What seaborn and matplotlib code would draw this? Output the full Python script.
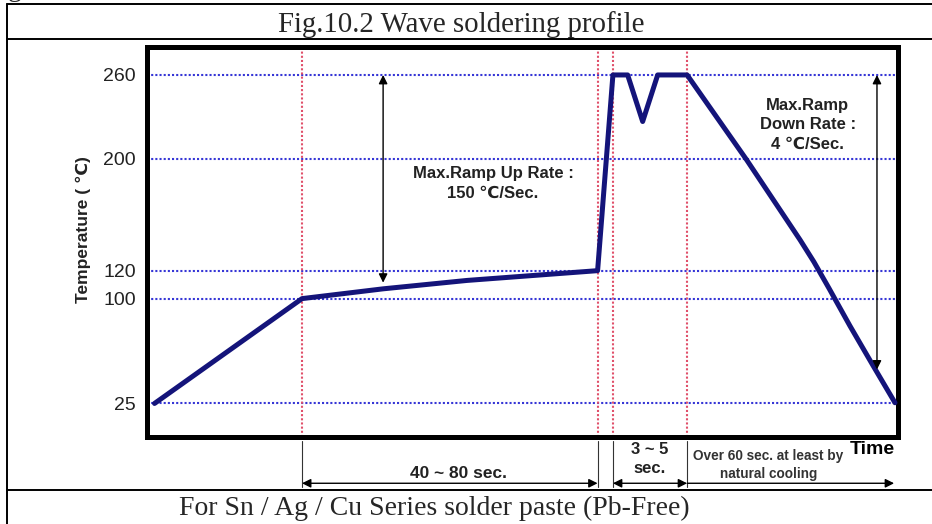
import matplotlib
matplotlib.use("Agg")
import matplotlib.pyplot as plt
from matplotlib.lines import Line2D
import seaborn as sns
import pandas as pd

# temperature profile, time in arbitrary units across the frame (0..250)
profile_time = [2.5, 51.6, 78.6, 106.5, 150, 155.1, 160, 165, 170, 179.8, 199.6,
                217.4, 222, 227, 234, 241.8, 249]
profile_temp = [25, 100, 107, 113, 120, 260, 260, 226.7, 260, 260, 199.3,
                142, 126.3, 107.5, 80.5, 51.7, 25.5]

grid_temps = [25, 100, 120, 200, 260]
phase_marks = [51.6, 150, 155.1, 179.8]

# rate arrows: (time, top temp, bottom temp)
up_arrow = (78.6, 260, 111.4)
down_arrow = (243, 260, 49.3)

up_text = "Max.Ramp Up Rate :\n150 ℃/Sec."
down_text = "Max.Ramp\nDown Rate :\n4 ℃/Sec."

title = "Fig.10.2 Wave soldering profile"
footer = "For Sn / Ag / Cu Series solder paste (Pb-Free)"

sns.set_style("white")
plt.rcParams["font.family"] = ["Liberation Sans", "DejaVu Sans"]
SANS = ["Liberation Sans", "DejaVu Sans"]
SERIF = ["Liberation Serif", "DejaVu Serif"]

fig = plt.figure(figsize=(9.32, 5.24), dpi=100)
ax = fig.add_axes([147 / 932, 1 - 437 / 524, 751 / 932, 390 / 524])

df = pd.DataFrame({"time": profile_time, "temp": profile_temp})

for t in grid_temps:
    ax.axhline(t, color="#3636d6", lw=1.5, ls=(0, (1, 1)), zorder=1)
for x in phase_marks:
    ax.axvline(x, color="#e0506a", lw=1.5, ls=(0, (1, 1)), zorder=1)

sns.lineplot(data=df, x="time", y="temp", ax=ax, color="#14147a", lw=3.6,
             sort=False, estimator=None, zorder=3)
ax.lines[-1].set_solid_joinstyle("round")
ax.lines[-1].set_solid_capstyle("round")

ax.set_xlim(0, 250)
ax.set_ylim(1, 280)
ax.set_xticks([])
ax.set_yticks(grid_temps)
ax.tick_params(axis="y", length=0, pad=8, labelsize=14, labelcolor="#222222")
for lab in ax.get_yticklabels():
    lab.set_family(SANS)
for sp in ax.spines.values():
    sp.set_linewidth(3.6)
    sp.set_color("black")
ax.set_xlabel("")
ax.set_ylabel("Temperature ( ℃)", fontsize=12.5, fontweight="bold", color="#222222", va="center")
ax.yaxis.set_label_coords(-0.085, 0.531)

# ramp arrows
arrow_kw = dict(arrowstyle="<|-|>", color="black", lw=1.0, mutation_scale=13, shrinkA=0, shrinkB=0)
ax.annotate("", xy=(up_arrow[0], up_arrow[2]), xytext=(up_arrow[0], up_arrow[1]), arrowprops=arrow_kw)
ax.annotate("", xy=(down_arrow[0], down_arrow[2]), xytext=(down_arrow[0], down_arrow[1]), arrowprops=arrow_kw)

ax.text(115.2, 182.5, up_text, ha="center", va="center", fontsize=12, fontweight="bold",
        color="#222222", linespacing=1.4, family=SANS)
ax.text(220, 224.3, down_text, ha="center", va="center", fontsize=12, fontweight="bold",
        color="#222222", linespacing=1.4, family=SANS)

# phase brackets below the frame
for x in phase_marks:
    ax.plot([x, x], [-2, -35], color="#333333", lw=0.8, clip_on=False)
ax.annotate("", xy=(phase_marks[1], -32.1), xytext=(phase_marks[0], -32.1), arrowprops=arrow_kw,
            annotation_clip=False)
ax.annotate("", xy=(phase_marks[3], -32.1), xytext=(phase_marks[2], -32.1), arrowprops=arrow_kw,
            annotation_clip=False)
ax.annotate("", xy=(248.7, -32.1), xytext=(phase_marks[3], -32.1),
            arrowprops=dict(arrowstyle="-|>", color="black", lw=1.0, mutation_scale=13, shrinkA=0, shrinkB=0),
            annotation_clip=False)

ax.text(103.6, -25, "40 ~ 80 sec.", ha="center", va="center", fontsize=12.5, fontweight="bold",
        color="#222222", clip_on=False)
ax.text(167.4, -7.9, "3 ~ 5", ha="center", va="center", fontsize=12, fontweight="bold",
        color="#222222", clip_on=False)
ax.text(167.4, -21.4, "sec.", ha="center", va="center", fontsize=12, fontweight="bold",
        color="#222222", clip_on=False)
ax.text(206.7, -12.9, "Over 60 sec. at least by", ha="center", va="center", fontsize=9.8,
        fontweight="bold", color="#333333", clip_on=False)
ax.text(206.8, -25.7, "natural cooling", ha="center", va="center", fontsize=9.8,
        fontweight="bold", color="#333333", clip_on=False)
ax.text(241.5, -7.9, "Time", ha="center", va="center", fontsize=14, fontweight="bold",
        color="black", clip_on=False)

# table frame around the figure
table_kw = dict(color="black", lw=1.4, transform=fig.transFigure)
fig.add_artist(Line2D([7 / 932, 1], [1 - 4 / 524] * 2, **table_kw))
fig.add_artist(Line2D([7 / 932, 1], [1 - 38.5 / 524] * 2, **table_kw))
fig.add_artist(Line2D([7 / 932, 1], [1 - 490 / 524] * 2, **table_kw))
fig.add_artist(Line2D([7 / 932] * 2, [0, 1 - 4 / 524], **table_kw))

fig.text(461 / 932, 1 - 32 / 524, title, ha="center", va="baseline", fontsize=20.8, family=SERIF)
fig.text(434 / 932, 1 - 515 / 524, footer, ha="center", va="baseline", fontsize=20, family=SERIF)
# leftover descender from the caption above
fig.text(8 / 932, 1 + 4 / 524, "g", ha="left", va="baseline", fontsize=20, family=SERIF)

fig.savefig("out.png", dpi=100)
